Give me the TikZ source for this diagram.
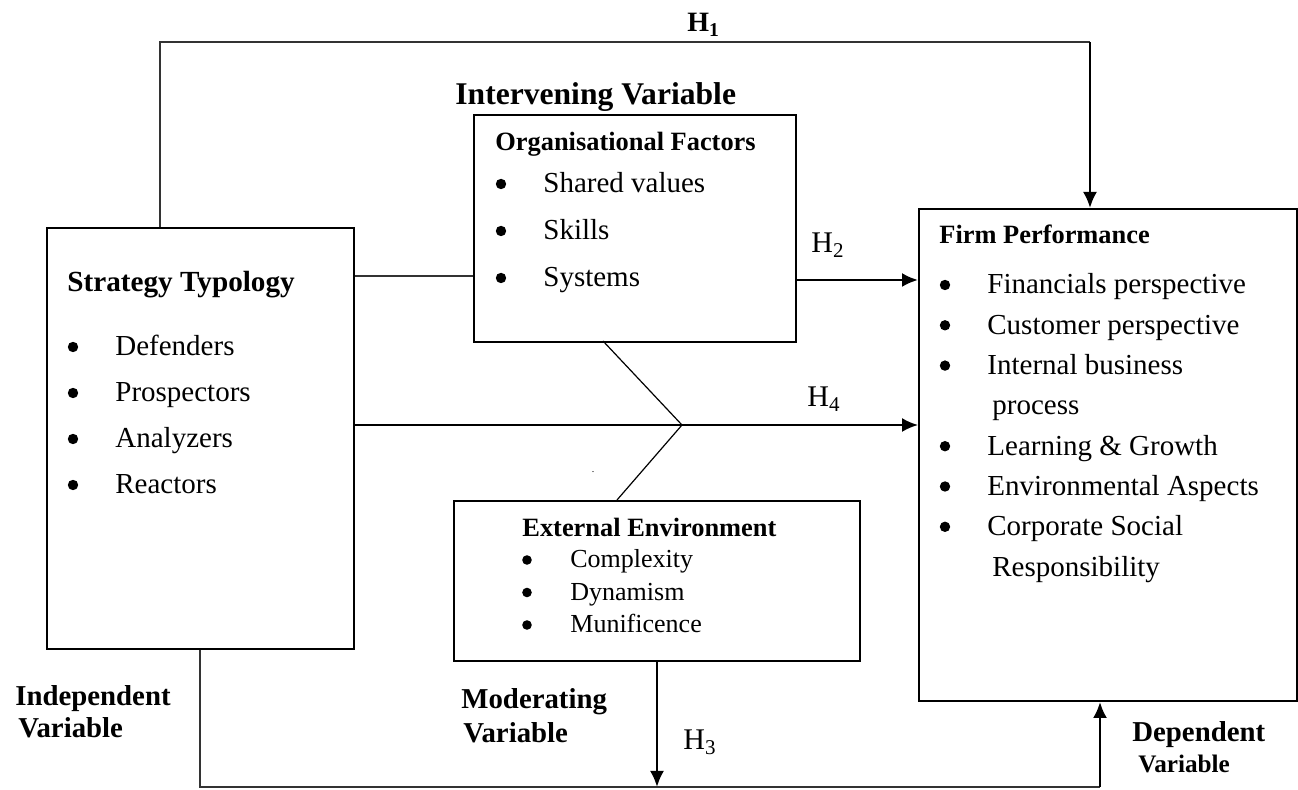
\documentclass[tikz,border=0pt]{standalone}
\usepackage{fontspec}
\setmainfont{Liberation Serif}
\usetikzlibrary{positioning, arrows.meta}

\begin{document}
\begin{tikzpicture}[x=0.5pt, y=-0.5pt]
	\tikzstyle{box} = [draw, line width=1pt, rectangle, anchor=north west, inner sep=0];
	\tikzstyle{boxtitle} = [anchor=base west, inner sep=0, font={\fontsize{13.2}{16}\selectfont\bfseries}];
	\tikzstyle{entry} = [anchor=base west, inner sep=0, font={\fontsize{14.5}{17}\selectfont}];
	\tikzstyle{subentry} = [anchor=base west, inner sep=0, font={\fontsize{13}{16}\selectfont}];
	\tikzstyle{bul} = [circle, draw=none, fill=black, inner sep=0, minimum size=5.2pt];
	\tikzstyle{varlabel} = [anchor=base west, inner sep=0, font={\fontsize{14.4}{17}\selectfont\bfseries}];
	\tikzstyle{hyp} = [anchor=base west, inner sep=0, font={\fontsize{15}{18}\selectfont}];
	\tikzstyle{link} = [line width=0.7pt, color=black!80];
	\tikzstyle{point} = [-{Latex[length=8pt, width=7pt]}, line width=1.2pt];

	\useasboundingbox (0,0) rectangle (1298,790);

	% the four boxes
	\node[box, minimum width=153.5pt, minimum height=210.5pt] (strategy) at (46,227) {};
	\node[box, minimum width=161pt, minimum height=113.5pt] (org) at (473,114) {};
	\node[box, minimum width=189pt, minimum height=246pt] (firm) at (918,208) {};
	\node[box, minimum width=203pt, minimum height=80pt] (env) at (453,500) {};

	% independent variable
	\node[varlabel, font={\fontsize{14.6}{17}\selectfont\bfseries}] (sttitle) at (67,292) {Strategy Typology};
	\foreach \txt [count=\i] in {Defenders, Prospectors, Analyzers, Reactors} {
		\node[bul] (sb\i) at (73, 301+46*\i) {};
		\node[entry] (st\i) at (115, 310+46*\i) {\txt};
	}

	% intervening variable
	\node[varlabel, font={\fontsize{15.8}{19}\selectfont\bfseries}] (interv) at (455,105) {Intervening Variable};
	\node[boxtitle] (orgtitle) at (495,151) {Organisational Factors};
	\foreach \txt [count=\i] in {Shared values, Skills, Systems} {
		\node[bul] (ob\i) at (501, 137+47*\i) {};
		\node[entry] (ot\i) at (543, 146+47*\i) {\txt};
	}

	% dependent variable
	\node[boxtitle] (fptitle) at (939,244) {Firm Performance};
	\foreach \txt/\k in {Financials perspective/0, Customer perspective/1, Internal business/2,
		Learning \& Growth/4, Environmental Aspects/5, Corporate Social/6} {
		\node[bul] (fb\k) at (945, 285+40.3*\k) {};
		\node[entry] (ft\k) at (987, 294+40.3*\k) {\txt};
	}
	\node[entry] (ft3) at (992, 294+40.3*3) {process};
	\node[entry] (ft7) at (992, 294+40.3*7) {Responsibility};

	% moderating variable
	\node[boxtitle] (envtitle) at (522,537) {External Environment};
	\foreach \txt [count=\i] in {Complexity, Dynamism, Munificence} {
		\node[bul, minimum size=4.8pt] (eb\i) at (527, 527.5+32.5*\i) {};
		\node[subentry] (et\i) at (570, 535.5+32.5*\i) {\txt};
	}
	\node[inner sep=0, font=\tiny] (speck) at (593,472) {.};

	% variable labels
	\node[varlabel] (indep1) at (15,706) {Independent};
	\node[varlabel] (indep2) at (18,738) {Variable};
	\node[varlabel] (moder1) at (461,709) {Moderating};
	\node[varlabel] (moder2) at (463,743) {Variable};
	\node[varlabel] (dep1) at (1132,742) {Dependent};
	\node[varlabel, font={\fontsize{12.6}{15}\selectfont\bfseries}] (dep2) at (1138,773) {Variable};

	% hypotheses
	\node[varlabel, font={\fontsize{14}{17}\selectfont\bfseries}] (h1) at (687,32) {H\textsubscript{1}};
	\node[hyp] (h2) at (811,253) {H\textsubscript{2}};
	\node[hyp] (h3) at (683,750) {H\textsubscript{3}};
	\node[hyp] (h4) at (807,407) {H\textsubscript{4}};

	% connectors
	\coordinate (topleft) at (160,42);
	\coordinate (topright) at (1090,42);
	\coordinate (mid) at (0,276);
	\coordinate (h2row) at (0,280);
	\coordinate (fork) at (682,425);
	\coordinate (orgfoot) at (603,341);
	\coordinate (envtop) at (617,500);
	\coordinate (botleft) at (200,787);
	\coordinate (botright) at (1100,787);

	\draw[link] (strategy.north -| topleft) -- (topleft) -- (topright);
	\draw[point] (topright) -- (firm.north -| topright);
	\draw[link] (strategy.east |- mid) -- (org.west |- mid);
	\draw[point] (org.east |- h2row) -- (firm.west |- h2row);
	\draw[point, line width=1pt] (strategy.east |- fork) -- (firm.west |- fork);
	\draw[line width=0.6pt] (orgfoot) -- (fork) -- (envtop);
	\draw[link] (strategy.south -| botleft) -- (botleft) -- (botright);
	\draw[point] (botright) -- (firm.south -| botright);
	\draw[point] (env.south) -- (env.south |- botleft);
\end{tikzpicture}
\end{document}
